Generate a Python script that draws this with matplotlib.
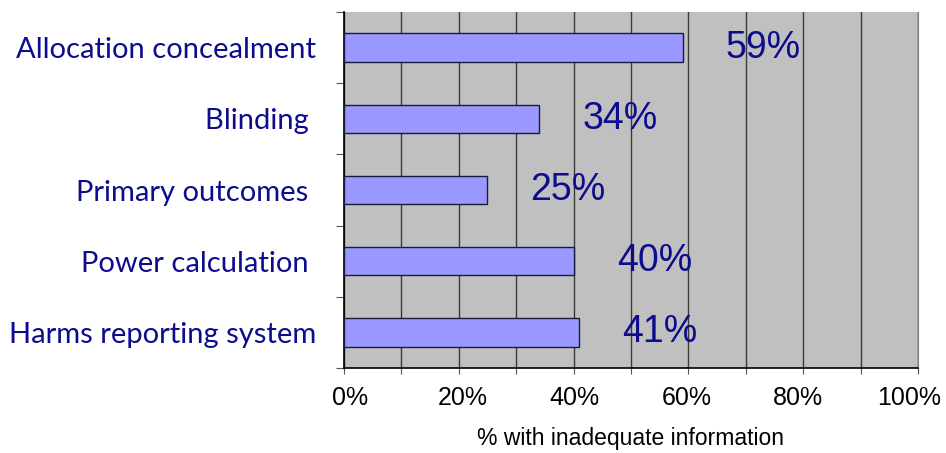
import matplotlib.pyplot as plt
import matplotlib.transforms as mtransforms
import numpy as np

# reporting items, top to bottom
items = ["Allocation concealment", "Blinding ", "Primary outcomes ",
         "Power calculation ", "Harms reporting system"]
pct = [59, 34, 25, 40, 41]
xticks = [0, 20, 40, 60, 80, 100]

navy = "#0c0c8c"

fig = plt.figure(figsize=(9.46, 4.53), dpi=100)
ax = fig.add_axes([0.3636, 0.1876, 0.6068, 0.7859])
ax.set_facecolor("#c0c0c0")

y = np.arange(len(items))
ax.barh(y, pct, height=0.4, color="#9999ff", edgecolor="#1a1a3a",
        linewidth=1, zorder=3)

for yi, v in zip(y, pct):
    ax.text(v + 7.5, yi, f"{v}%", va="center", ha="left", color=navy,
            fontsize=27, family="Liberation Sans", zorder=4)

ax.set_xlim(0, 100)
ax.set_ylim(len(items) - 0.5, -0.5)

# vertical gridlines every 10%, labels every 20%
ax.set_xticks(np.arange(0, 101, 10))
ax.set_xticklabels([f"{t}%" if t in xticks else "" for t in range(0, 101, 10)],
                   fontsize=18, family="Liberation Sans")
ax.grid(axis="x", color="#3a3a3a", linewidth=1, zorder=1)
ax.tick_params(axis="x", length=4, color="#555555", pad=9)

# labels are packed a little tighter than the ticks
shifts = [6, 0, 4, 0, 1, 0, -2, 0, -5, 0, -9]
for lab, dx in zip(ax.get_xticklabels(), shifts):
    lab.set_transform(lab.get_transform() +
                      mtransforms.ScaledTranslation(dx / 100, 0, fig.dpi_scale_trans))

# category ticks sit between the bars
ax.set_yticks(np.arange(-0.5, len(items), 1))
ax.set_yticklabels([])
ax.set_yticks(y, minor=True)
ax.set_yticklabels(items, minor=True, fontsize=21, family="Lato", color=navy)
ax.tick_params(axis="y", which="minor", length=0, pad=20)
ax.tick_params(axis="y", which="major", length=6, color="#555555")

ax.set_xlabel("% with inadequate information", fontsize=16.5,
              family="Liberation Sans", labelpad=12)

for s in ["left", "bottom"]:
    ax.spines[s].set_color("black")
    ax.spines[s].set_linewidth(1.2)
ax.spines["top"].set_visible(False)
ax.spines["right"].set_color("#808080")

fig.savefig("out.png", dpi=100)
